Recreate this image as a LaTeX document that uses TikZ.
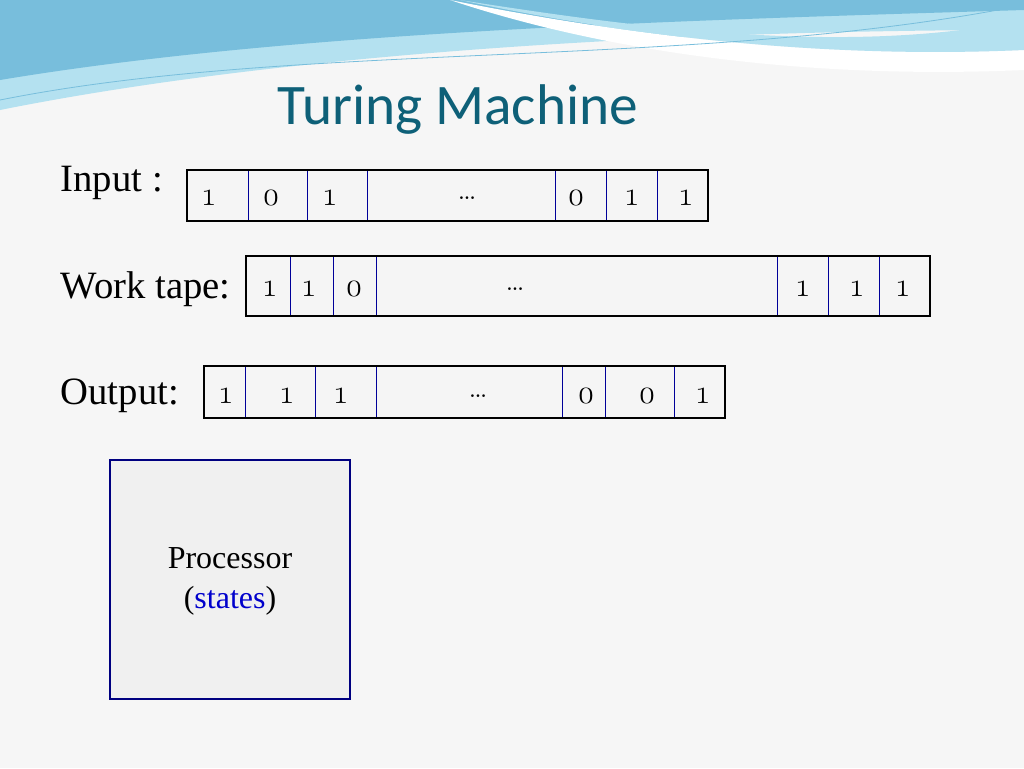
\documentclass[tikz,border=0pt]{standalone}
\usepackage{fontspec}
\setmainfont{Latin Modern Roman}
\newfontfamily\titlefont{Carlito}
\newfontfamily\lblfont{Liberation Serif}
\definecolor{titlec}{RGB}{14,96,120}
\definecolor{wave1}{RGB}{120,190,220}
\definecolor{wave2}{RGB}{180,225,240}
\begin{document}
\begin{tikzpicture}[x=0.75pt,y=-0.75pt,
  tape/.style={draw=black,line width=1.5pt,fill=gray!8},
  div/.style={draw=blue!60!black,line width=0.6pt},
  lbl/.style={anchor=west,font=\lblfont\fontsize{29}{31}\selectfont},
  dig/.style={font=\fontsize{25}{27}\selectfont}]
\useasboundingbox (0,0) rectangle (1024,768);
\fill[gray!7] (0,0) rectangle (1024,768);
% waves
\fill[wave2] (0,0) -- (1024,0) -- (1024,30) .. controls (700,30) and (300,50) .. (0,110) -- cycle;
\fill[wave1] (0,0) -- (1024,0) -- (1024,10) .. controls (700,20) and (300,30) .. (0,80) -- cycle;
\fill[white] (450,0) .. controls (600,30) and (800,60) .. (1024,50) -- (1024,70) .. controls (800,80) and (600,50) .. (450,0);
\fill[wave2] (460,0) .. controls (650,30) and (850,55) .. (1024,20) -- (1024,50) .. controls (800,60) and (600,30) .. (460,0);
\draw[wave1,line width=0.6pt] (0,100) .. controls (300,40) and (700,70) .. (1024,5);
\node[font=\titlefont\fontsize{43}{46}\selectfont,text=titlec] (title) at (458,110) {Turing Machine};
% labels
\node[lbl] (li) at (56,183) {Input :};
\node[lbl] (lw) at (56,289) {Work tape:};
\node[lbl] (lo) at (56,396) {Output:};
% input tape
\node[tape,minimum width=390.75pt,minimum height=38.25pt,inner sep=0pt] (tin) at (447.5,195.5) {};
\foreach \x in {248,307,367,555,606,657} \draw[div] (\x,171) -- (\x,220);
\foreach \x/\t in {209/1,271/0,330/1,576/0,632/1,686/1} \node[dig] at (\x,198) {\oldstylenums{\t}};
\node[dig] (din) at (467,198) {\dots};
% work tape
\node[tape,minimum width=513pt,minimum height=45pt,inner sep=0pt] (twk) at (588,286) {};
\foreach \x in {290,333,376,777,828,879} \draw[div] (\x,257) -- (\x,315);
\foreach \x/\t in {270/1,309/1,354/0,803/1,857/1,903/1} \node[dig] at (\x,289) {\oldstylenums{\t}};
\node[dig] (dwk) at (515,289) {\dots};
% output tape
\node[tape,minimum width=390.75pt,minimum height=39pt,inner sep=0pt] (tout) at (464.5,392) {};
\foreach \x in {245,315,376,562,605,674} \draw[div] (\x,367) -- (\x,417);
\foreach \x/\t in {226/1,287/1,341/1,586/0,647/0,703/1} \node[dig] at (\x,396) {\oldstylenums{\t}};
\node[dig] (dout) at (478,396) {\dots};
% processor
\node[draw=blue!50!black,line width=1.2pt,fill=gray!12,minimum width=180pt,minimum height=179pt,inner sep=0pt] (proc) at (230,579.5) {};
\node[font=\lblfont\fontsize{24}{26}\selectfont,align=center] (ptxt) at (230,581) {Processor\\[4pt](\textcolor{blue!80!black}{states})};
\end{tikzpicture}
\end{document}
